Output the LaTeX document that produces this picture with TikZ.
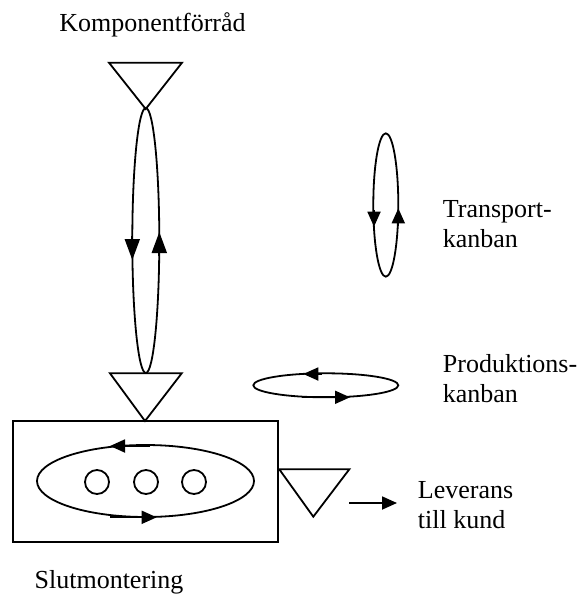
\documentclass[tikz,border=0pt]{standalone}
\usepackage{fontspec}
\setmainfont{Liberation Serif}
\usetikzlibrary{arrows.meta,shapes.geometric}
\tikzset{
  lbl/.style={inner sep=0pt, font=\fontsize{26pt}{30pt}\selectfont},
  loop/.style={draw, ellipse, inner sep=0pt},
  station/.style={draw, circle, inner sep=0pt, minimum size=24pt},
  arr/.style={-{Triangle[length=15pt,width=13pt]}},
  bigarr/.style={-{Triangle[length=21pt,width=15pt]}},
}
\begin{document}
\begin{tikzpicture}[x=1pt,y=-1pt,line width=1.8pt]
\useasboundingbox (0,0) rectangle (577,596);

% storage triangles
\coordinate (supL) at (109,62.7);
\coordinate (supR) at (182,62.7);
\coordinate (supTip) at (145.7,109);
\draw (supL) -- (supR) -- (supTip) -- cycle;

\coordinate (bufL) at (110,373.3);
\coordinate (bufR) at (181.7,373.3);
\coordinate (bufTip) at (145,421);
\draw (bufL) -- (bufR) -- (bufTip) -- cycle;

\coordinate (outL) at (279.3,469.3);
\coordinate (outR) at (349.3,469.3);
\coordinate (outTip) at (313.3,516.7);
\draw (outL) -- (outR) -- (outTip) -- cycle;

% transport loop between the component store and assembly
\node[loop, minimum width=27pt, minimum height=265pt] (tloop) at (145.8,240.5) {};
\draw[bigarr] (132.3,236) -- (132.3,260);
\draw[bigarr] (159.3,256) -- (159.3,232);

% final assembly with its production loop
\node[draw, rectangle, inner sep=0pt, minimum width=264.4pt, minimum height=120.7pt] (asm) at (145.5,481.3) {};
\node[loop, minimum width=217pt, minimum height=72pt] (ploop) at (145.5,481) {};
\node[station] (s1) at (97,482) {};
\node[station] (s2) at (146,482) {};
\node[station] (s3) at (194,482) {};
\draw[arr] (150,446) -- (110,446);
\draw[arr] (110,517.3) -- (156.7,517.3);

% legend: transport kanban
\node[loop, minimum width=25pt, minimum height=143.4pt] (legT) at (385.8,205) {};
\draw[arr] (374,210) -- (374,226.7);
\draw[arr] (398.3,226) -- (398.3,208.3);
\node[lbl, anchor=base west, align=left] (legTtxt) at (442,247) {Transport-\\kanban};

% legend: production kanban
\node[lbl, anchor=base west, align=left] (legPtxt) at (442,402) {Produktions-\\kanban};
\node[loop, minimum width=145pt, minimum height=24pt] (legP) at (325.8,385.3) {};
\draw[arr] (322,374) -- (303.3,374);
\draw[arr] (301.7,397.3) -- (350,397.3);

% delivery
\node[lbl, anchor=base west, align=left] (lev) at (417,528) {Leverans\\till kund};
\coordinate (levStart) at (349,503);
\draw[arr] (levStart) -- ([xshift=-20pt]lev.west |- levStart);

% captions
\node[lbl, anchor=base] (komp) at (152.5,32) {Komponentförråd};
\node[lbl, anchor=base] (slut) at (109,588) {Slutmontering};
\end{tikzpicture}
\end{document}
